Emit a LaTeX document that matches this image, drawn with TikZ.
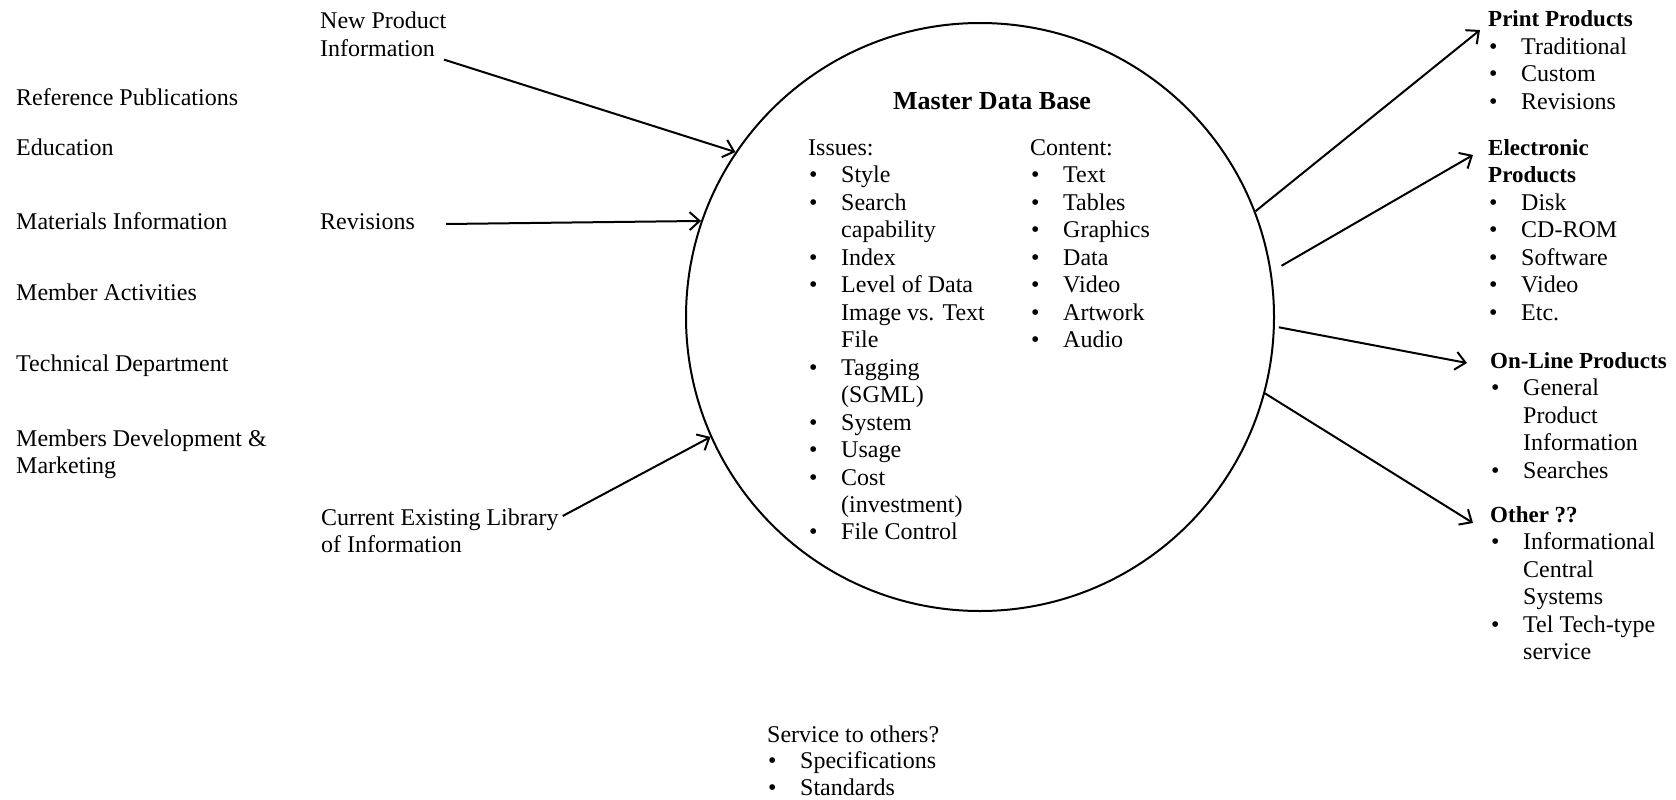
\documentclass[tikz,border=0pt]{standalone}
\usepackage{fontspec}
\setmainfont{Liberation Serif}
\usetikzlibrary{arrows.meta}

% type sizes: body text and bold headings share one line pitch
\newcommand{\bodyfont}{\fontsize{24}{27.5}\selectfont}
\newcommand{\hd}[1]{{\fontsize{23}{27.5}\selectfont\bfseries #1}}
% bulleted row and its continuation indent
\newcommand{\itm}{\makebox[33pt][l]{\hspace{1pt}\textbullet}}
\newcommand{\cnt}{\hspace*{33pt}}
\newcommand{\blk}[1]{\begin{tabular}[t]{@{}l@{}}#1\end{tabular}}

\tikzset{
  lbl/.style={inner sep=0pt, anchor=base west, font=\bodyfont},
  flow/.style={line width=2pt, -{Straight Barb[length=10pt,width=18pt]}},
  hub/.style={circle, draw, line width=2pt, minimum size=588pt, inner sep=0pt},
}

\begin{document}
\begin{tikzpicture}[x=1pt,y=-1pt]
\fill[white] (0,0) rectangle (1676,800);
\useasboundingbox (0,0) rectangle (1676,800);

% central data base
\node[hub] (db) at (980,317) {};
\node[inner sep=0pt, anchor=base, font=\fontsize{26}{30}\selectfont\bfseries] (title) at (992,109) {Master Data Base};
\node[lbl] (issues) at (808,155) {\blk{%
  Issues:\\
  \itm Style\\
  \itm Search\\
  \cnt capability\\
  \itm Index\\
  \itm Level of Data\\
  \cnt Image vs. Text\\
  \cnt File\\
  \itm Tagging\\
  \cnt (SGML)\\
  \itm System\\
  \itm Usage\\
  \itm Cost\\
  \cnt (investment)\\
  \itm File Control}};
\node[lbl] (content) at (1030,155) {\blk{%
  Content:\\
  \itm Text\\
  \itm Tables\\
  \itm Graphics\\
  \itm Data\\
  \itm Video\\
  \itm Artwork\\
  \itm Audio}};

% departments on the left
\node[lbl] (refpub) at (16,106) {Reference Publications};
\node[lbl] (edu) at (16,155) {Education};
\node[lbl] (matinfo) at (16,229) {Materials Information};
\node[lbl] (memact) at (16,300) {Member Activities};
\node[lbl] (tech) at (16,371) {Technical Department};
\node[lbl] (memdev) at (16,446) {\blk{Members Development \&\\Marketing}};

% inputs
\node[lbl] (newprod) at (320,28.6) {\blk{New Product\\Information}};
\node[lbl] (rev) at (320,229) {Revisions};
\node[lbl] (library) at (321,525) {\blk{Current Existing Library\\of Information}};

% outputs
\node[lbl] (print) at (1488,27) {\blk{%
  \hd{Print Products}\\
  \itm Traditional\\
  \itm Custom\\
  \itm Revisions}};
\node[lbl] (elec) at (1488,155) {\blk{%
  \hd{Electronic}\\
  \hd{Products}\\
  \itm Disk\\
  \itm CD-ROM\\
  \itm Software\\
  \itm Video\\
  \itm Etc.}};
\node[lbl] (online) at (1490,368) {\blk{%
  \hd{On-Line Products}\\
  \itm General\\
  \cnt Product\\
  \cnt Information\\
  \itm Searches}};
\node[lbl] (other) at (1490,522) {\blk{%
  \hd{Other ??}\\
  \itm Informational\\
  \cnt Central\\
  \cnt Systems\\
  \itm Tel Tech-type\\
  \cnt service}};

% services
\node[lbl, font=\fontsize{24}{26.5}\selectfont] (service) at (767,742) {\blk{%
  Service to others?\\
  \itm Specifications\\
  \itm Standards}};

% flows into the data base
\draw[flow] ([xshift=124pt,yshift=-31pt]newprod.base west) -- (db.146.7);
\draw[flow] ([xshift=31pt,yshift=5pt]rev.base east) -- (db.161.7);
\draw[flow] ([xshift=4pt,yshift=9pt]library.base east) -- (db.204.4);

% flows out of the data base
\draw[flow] (db.21) -- ([xshift=-8pt,yshift=-3pt]print.base west);
\draw[flow] ([xshift=11pt]db.10) -- ([xshift=-15pt]elec.base west);
\draw[flow] ([xshift=4pt]db.-2) -- ([xshift=-23pt,yshift=5pt]online.base west);
\draw[flow] (db.-15.5) -- ([xshift=-17pt,yshift=-1pt]other.base west);
\end{tikzpicture}
\end{document}
